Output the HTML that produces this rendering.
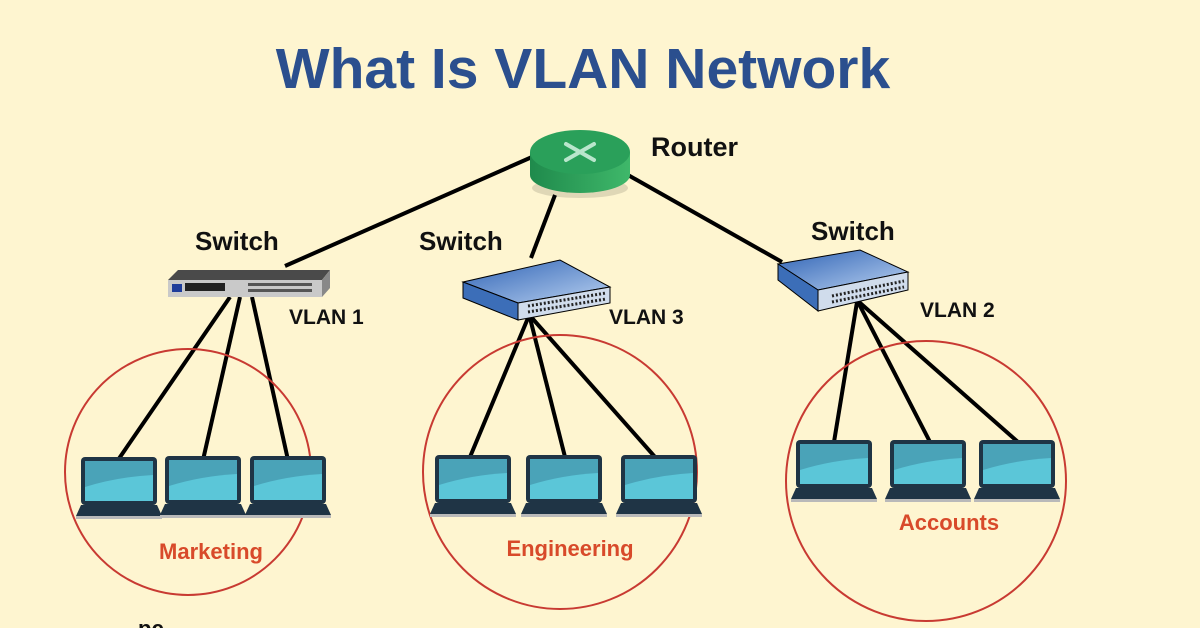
<!DOCTYPE html>
<html><head><meta charset="utf-8"><style>
html,body{margin:0;padding:0;background:#fef5d0;}
svg{display:block;}
text{font-family:"Liberation Sans",sans-serif;font-weight:bold;}
</style></head><body>
<svg width="1200" height="628" viewBox="0 0 1200 628" xmlns="http://www.w3.org/2000/svg">
<defs>
<g id="lap">
<rect x="4" y="0" width="76" height="48" rx="4" fill="#1f3445"/>
<rect x="8" y="4" width="68" height="40" fill="#4aa3b8"/>
<path d="M8 30 Q40 20 76 18 L76 44 L8 44Z" fill="#5bc6d8"/>
<path d="M4 48 L80 48 L85 59 L-1 59Z" fill="#1f3445"/>
<rect x="-1" y="59" width="86" height="3" fill="#b9b9b9"/>
</g>
<linearGradient id="rg" x1="0" x2="1"><stop offset="0" stop-color="#1f8a4c"/><stop offset="1" stop-color="#3fb86a"/></linearGradient>
<linearGradient id="bt" x1="0" y1="0" x2="1" y2="1"><stop offset="0" stop-color="#2f63b5"/><stop offset="1" stop-color="#b8d0f0"/></linearGradient>
</defs>
<text x="583" y="88" text-anchor="middle" font-size="57" fill="#2b4f8e">What Is VLAN Network</text>
<g stroke="#000" stroke-width="4" fill="none">
<line x1="532" y1="157" x2="285" y2="266"/>
<line x1="555" y1="195" x2="531" y2="258"/>
<line x1="628" y1="175" x2="782" y2="262"/>
<line x1="230" y1="297" x2="118" y2="460"/>
<line x1="240" y1="297" x2="203" y2="460"/>
<line x1="252" y1="297" x2="288" y2="460"/>
<line x1="528" y1="318" x2="470" y2="457"/>
<line x1="530" y1="318" x2="565" y2="457"/>
<line x1="532" y1="318" x2="655" y2="457"/>
<line x1="857" y1="302" x2="834" y2="442"/>
<line x1="858" y1="302" x2="930" y2="442"/>
<line x1="859" y1="302" x2="1018" y2="442"/>
</g>
<g fill="none" stroke="#c83a32" stroke-width="2">
<circle cx="188" cy="472" r="123"/>
<circle cx="560" cy="472" r="137"/>
<circle cx="926" cy="481" r="140"/>
</g>
<ellipse cx="580" cy="188" rx="48" ry="10" fill="#000" opacity="0.12"/>
<path d="M530 152 L530 175 A50 18 0 0 0 630 175 L630 152Z" fill="url(#rg)"/>
<ellipse cx="580" cy="152" rx="50" ry="22" fill="#2aa05a"/>
<g stroke="#b9e6cc" stroke-width="4" stroke-linecap="round">
<line x1="566" y1="144" x2="594" y2="160"/><line x1="594" y1="144" x2="566" y2="160"/>
</g>
<text x="651" y="156" font-size="27" fill="#111">Router</text>
<path d="M168 280 L178 270 L330 270 L322 280Z" fill="#4a4a4a"/>
<rect x="168" y="280" width="154" height="17" fill="#c9c9c9"/>
<path d="M322 280 L330 270 L330 288 L322 297Z" fill="#888"/>
<rect x="172" y="284" width="10" height="8" fill="#1e3c9a"/>
<rect x="185" y="283" width="40" height="8" fill="#222"/>
<g fill="#555"><rect x="248" y="283" width="64" height="3"/><rect x="248" y="289" width="64" height="3"/></g>
<text x="195" y="250" font-size="26" fill="#111">Switch</text>
<text x="289" y="324" font-size="21" fill="#111">VLAN 1</text>
<path d="M463 282 L560 260 L610 287 L518 303Z" fill="url(#bt)" stroke="#000"/>
<path d="M518 303 L610 287 L610 303 L518 320Z" fill="#d0dcec" stroke="#000"/>
<path d="M463 282 L518 303 L518 320 L463 298Z" fill="#3c6eb8" stroke="#000"/>
<path d="M528 306 L606 293 M528 312 L606 299" stroke="#222" stroke-width="3" stroke-dasharray="2 2"/>
<text x="419" y="250" font-size="26" fill="#111">Switch</text>
<text x="609" y="324" font-size="21" fill="#111">VLAN 3</text>
<path d="M778 264 L860 250 L908 272 L818 290Z" fill="url(#bt)" stroke="#000"/>
<path d="M818 290 L908 272 L908 290 L818 311Z" fill="#d0dcec" stroke="#000"/>
<path d="M778 264 L818 290 L818 311 L778 280Z" fill="#3c6eb8" stroke="#000"/>
<path d="M832 296 L904 281 M832 302 L904 287" stroke="#222" stroke-width="3" stroke-dasharray="2 2"/>
<text x="811" y="240" font-size="26" fill="#111">Switch</text>
<text x="920" y="317" font-size="21" fill="#111">VLAN 2</text>
<use href="#lap" x="77" y="457"/><use href="#lap" x="161" y="456"/><use href="#lap" x="246" y="456"/>
<use href="#lap" x="431" y="455"/><use href="#lap" x="522" y="455"/><use href="#lap" x="617" y="455"/>
<use href="#lap" x="792" y="440"/><use href="#lap" x="886" y="440"/><use href="#lap" x="975" y="440"/>
<text x="211" y="559" font-size="22" fill="#d84a2a" text-anchor="middle">Marketing</text>
<text x="570" y="556" font-size="22" fill="#d84a2a" text-anchor="middle">Engineering</text>
<text x="949" y="530" font-size="22" fill="#d84a2a" text-anchor="middle">Accounts</text>
<text x="138" y="636" font-size="22" fill="#111" font-weight="normal">pc</text>
</svg>
</body></html>
